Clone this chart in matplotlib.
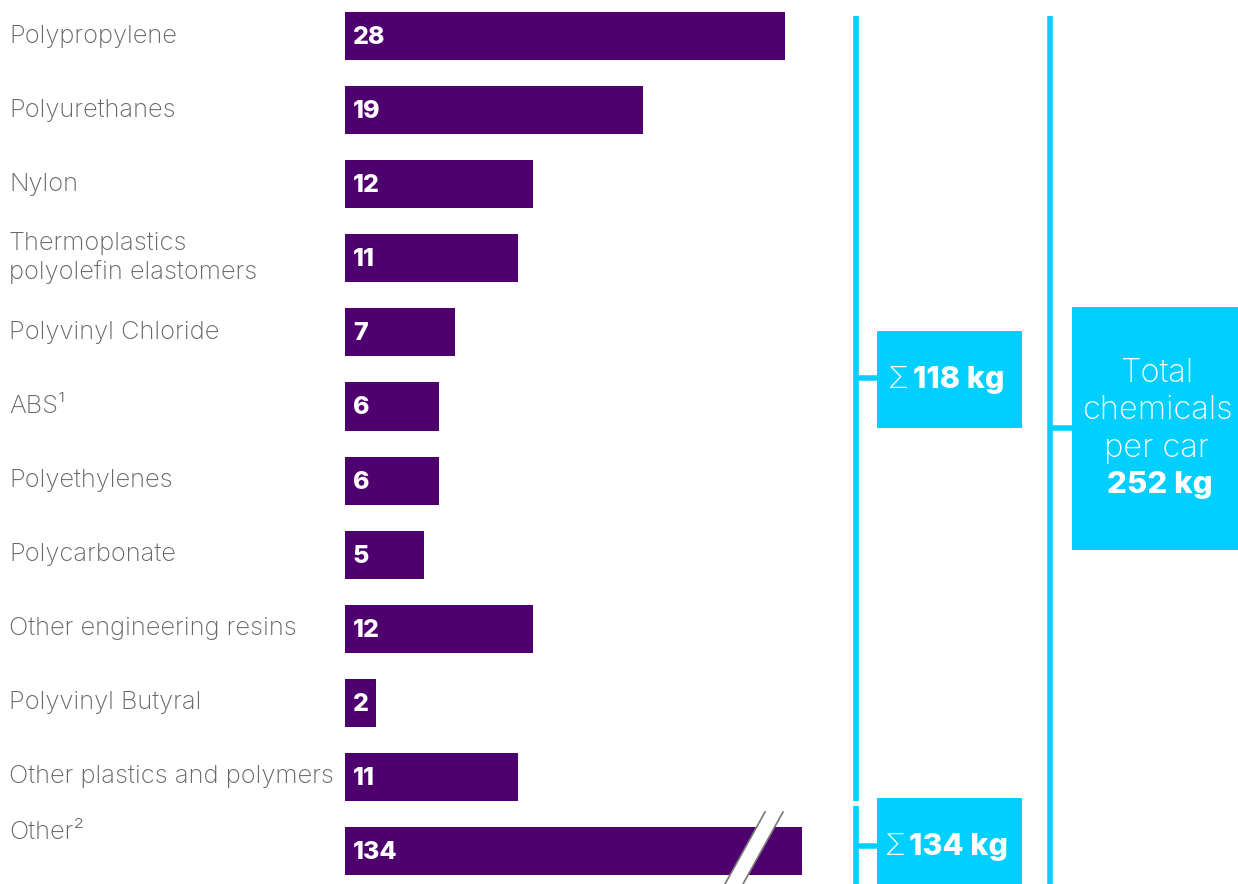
import matplotlib.pyplot as plt
from matplotlib.patches import Rectangle, Polygon

# data
materials = ["Polypropylene", "Polyurethanes", "Nylon",
             "Thermoplastics\npolyolefin elastomers", "Polyvinyl Chloride",
             "ABS¹", "Polyethylenes", "Polycarbonate", "Other engineering resins",
             "Polyvinyl Butyral", "Other plastics and polymers", "Other²"]
kg = [28, 19, 12, 11, 7, 6, 6, 5, 12, 2, 11, 134]
plastics_total = 118
other_total = 134
grand_total = 252
total_lines = ["Total", "chemicals", "per car"]

purple = "#4F006F"
cyan = "#00CFFF"
grey = "#666666"
W, H = 1238, 884

plt.rcParams['font.family'] = ['Inter', 'Roboto', 'DejaVu Sans']

fig = plt.figure(figsize=(W / 100, H / 100), dpi=100)

# bar axes: starts at x=345px, ~15.7 px per kg, rows 74.1 px apart
px_per_kg = 15.7
row = 74.1
first = 36
ax = fig.add_axes([345 / W, 0, (W - 345) / W, 1])
ax.set_xlim(0, (W - 345) / px_per_kg)
ax.set_ylim((H - first) / row, -first / row)
ax.axis("off")

break_at = 29.1  # the big "Other" bar is cut off here
shown = [min(v, break_at) for v in kg]
ax.barh(range(len(kg)), shown, height=0.65, color=purple, zorder=2)

for i, (name, v) in enumerate(zip(materials, kg)):
    ax.text(0.5, i + 0.02, str(v), color="white", fontsize=18, fontweight="heavy",
            va="center", ha="left", zorder=3)
    dy = -0.25 if i == len(kg) - 1 else 0
    ax.text(-336 / px_per_kg, i + dy, name, color=grey, fontsize=18.4,
            fontweight="light", va="center", ha="left", linespacing=1.25)

# overlay in pixel coordinates for break mark, brackets and boxes
ov = fig.add_axes([0, 0, 1, 1], zorder=5)
ov.set_xlim(0, W)
ov.set_ylim(H, 0)
ov.axis("off")
ov.patch.set_alpha(0)

# break mark on the last bar
gap = Polygon([(765, 812), (783, 812), (743, 884), (725, 884)],
              closed=True, facecolor="white", edgecolor="none")
ov.add_patch(gap)
ov.plot([765, 725], [812, 884], color="#777777", lw=1.2)
ov.plot([783, 743], [812, 884], color="#777777", lw=1.2)

# first bracket
ov.plot([856, 856], [16, 801], color=cyan, lw=4, solid_capstyle="butt")
ov.plot([856, 856], [806, 884], color=cyan, lw=4, solid_capstyle="butt")
ov.plot([856, 878], [378, 378], color=cyan, lw=4, solid_capstyle="butt")
ov.plot([856, 878], [846, 846], color=cyan, lw=4, solid_capstyle="butt")
ov.add_patch(Rectangle((877, 331), 145, 97, facecolor=cyan, edgecolor="none"))
ov.add_patch(Rectangle((877, 798), 145, 86, facecolor=cyan, edgecolor="none"))
ov.text(888, 380, "Σ", color="white", fontsize=22, fontweight="light",
        va="center", ha="left")
ov.text(913, 380, f"{plastics_total} kg", color="white", fontsize=22,
        fontweight="heavy", va="center", ha="left")
ov.text(885, 847, "Σ", color="white", fontsize=22, fontweight="light",
        va="center", ha="left")
ov.text(909, 847, f"{other_total} kg", color="white", fontsize=22,
        fontweight="heavy", va="center", ha="left")

# second bracket
ov.plot([1050, 1050], [16, 884], color=cyan, lw=4, solid_capstyle="butt")
ov.plot([1050, 1073], [428, 428], color=cyan, lw=4, solid_capstyle="butt")
ov.add_patch(Rectangle((1072, 307), 166, 243, facecolor=cyan, edgecolor="none"))
for k, line in enumerate(total_lines):
    ov.text(1157, 373 + 37.5 * k, line, color="white", fontsize=23.5,
            fontweight="light", va="center", ha="center")
ov.text(1160, 485, f"{grand_total} kg", color="white", fontsize=22.5,
        fontweight="heavy", va="center", ha="center")

fig.savefig("out.png", dpi=100, facecolor="white")
